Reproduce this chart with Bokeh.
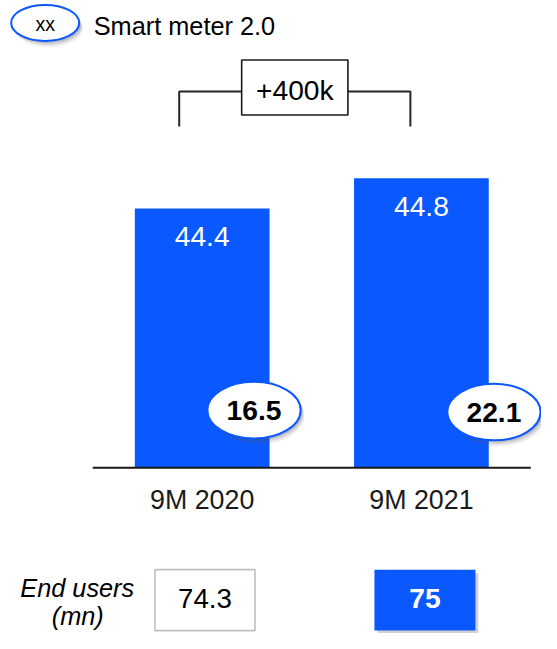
from bokeh.plotting import figure
from bokeh.models import Range1d
from bokeh.core.properties import value
from bokeh.embed import file_html
from bokeh.resources import INLINE

# ---- data ----
categories = ["9M 2020", "9M 2021"]
meters_mn = [44.4, 44.8]          # bar values
smart_meter_2 = [16.5, 22.1]      # ellipse call-outs
end_users_mn = [74.3, 75]         # bottom row
legend_key = "xx"
legend_label = "Smart meter 2.0"
end_users_title = ["End users", "(mn)"]

# ---- style / layout ----
FONT = value("Liberation Sans")
BLUE = "#0a58ff"
W, H = 541, 633            # figure size (fits window with 8px margin)
REF_W, REF_H = 557, 649    # layout coordinate space
S = (W / REF_W + H / REF_H) / 2

def fs(px):
    return value(f"{px * S:.1f}px")

def Y(py):
    # layout row (from top) -> plot y coordinate
    return REF_H - py

base_val = 40.97      # value at the axis line (truncated axis)
ppu = 77.5            # layout pixels per value unit
axis_py = 479         # row of axis line
bar_first_x = 207.65
bar_step = 225.7
bar_w = 138.7
bar_x = [bar_first_x + i * bar_step for i in range(len(categories))]

def v_at(py):
    return base_val + (axis_py - py) / ppu

p = figure(width=W, height=H, x_range=Range1d(0, REF_W), y_range=Range1d(0, REF_H),
           output_backend="svg", toolbar_location=None, min_border=0,
           x_axis_type=None, y_axis_type=None)
p.grid.visible = False
p.outline_line_color = None
p.background_fill_color = "white"
p.border_fill_color = "white"
p.extra_y_ranges = {"val": Range1d(v_at(REF_H), v_at(0))}

def label(xs, ys, texts, size, color="black", style="normal", align="center", **kw):
    p.text(x=xs, y=ys, text=texts, text_font=FONT, text_font_size=fs(size),
           text_font_style=style, text_color=color, text_align=align,
           text_baseline="middle", **kw)

# ---- bars ----
p.vbar(x=bar_x, width=bar_w, bottom=base_val, top=meters_mn, y_range_name="val",
       fill_color=BLUE, line_color=None)
label(bar_x, [v - 29 / ppu for v in meters_mn], [f"{v:.1f}" for v in meters_mn], 29,
      color="white", y_range_name="val")

# axis line
p.segment(x0=[95], y0=[Y(axis_py)], x1=[546], y1=[Y(axis_py)], line_color="#1a1a1a", line_width=2)

# category labels
label(bar_x, [Y(512.5)] * len(categories), categories, 27.5, color="#1a1a1a")

# ---- ellipse call-outs ----
def callout(xs, ys, w, h, texts, size, style, t_off):
    for dx, dy, a in [(4, 6, 0.10), (3, 4, 0.16), (2, 2, 0.2)]:
        p.ellipse(x=[x + dx for x in xs], y=[Y(y + dy) for y in ys], width=w, height=h,
                  fill_color="#555555", fill_alpha=a, line_color=None)
    p.ellipse(x=xs, y=[Y(y) for y in ys], width=w, height=h, fill_color="white",
              line_color=BLUE, line_width=2)
    label(xs, [Y(y + t_off) for y in ys], texts, size, style=style)

callout([261, 508], [420, 422], 96, 58, [f"{v:.1f}" for v in smart_meter_2], 29, "bold", 0.3)
callout([46], [23], 70, 37, [legend_key], 20, "normal", 1.5)

label([96], [Y(26)], [legend_label], 26, align="left")

# ---- bracket with change label ----
diff_k = round((meters_mn[1] - meters_mn[0]) * 1000)
p.multi_line(xs=[[184, 184, 248], [357.7, 422, 422]],
             ys=[[Y(129.3), Y(93.3), Y(93.3)], [Y(93.3), Y(93.3), Y(129.3)]],
             line_color="#262626", line_width=2)
p.rect(x=[303], y=[Y(89.2)], width=109.4, height=56.3, fill_color="white",
       line_color="#1a1a1a", line_width=1.6)
label([303], [Y(92)], [f"+{diff_k}k"], 29)

# ---- bottom row: end users ----
label([79, 79.5], [Y(602), Y(631)], end_users_title, 26, style="italic")
box_x = [210.5, 437]
box_cy, box_h, box_w = 614.8, 62.5, 104
# shadow for highlighted box
p.rect(x=[box_x[1] + 3], y=[Y(box_cy + 4)], width=box_w, height=box_h,
       fill_color="#666666", fill_alpha=0.3, line_color=None)
p.rect(x=[box_x[0]], y=[Y(box_cy)], width=box_w - 1, height=box_h, fill_color="white",
       line_color="#bfbfbf", line_width=1.6)
p.rect(x=[box_x[1]], y=[Y(box_cy)], width=box_w, height=box_h, fill_color=BLUE,
       line_color=None)
label([box_x[0]], [Y(613.3)], [str(end_users_mn[0])], 28.5)
label([box_x[1]], [Y(613.3)], [str(end_users_mn[1])], 29, color="white", style="bold")

open("out.html", "w").write(file_html(p, INLINE))
